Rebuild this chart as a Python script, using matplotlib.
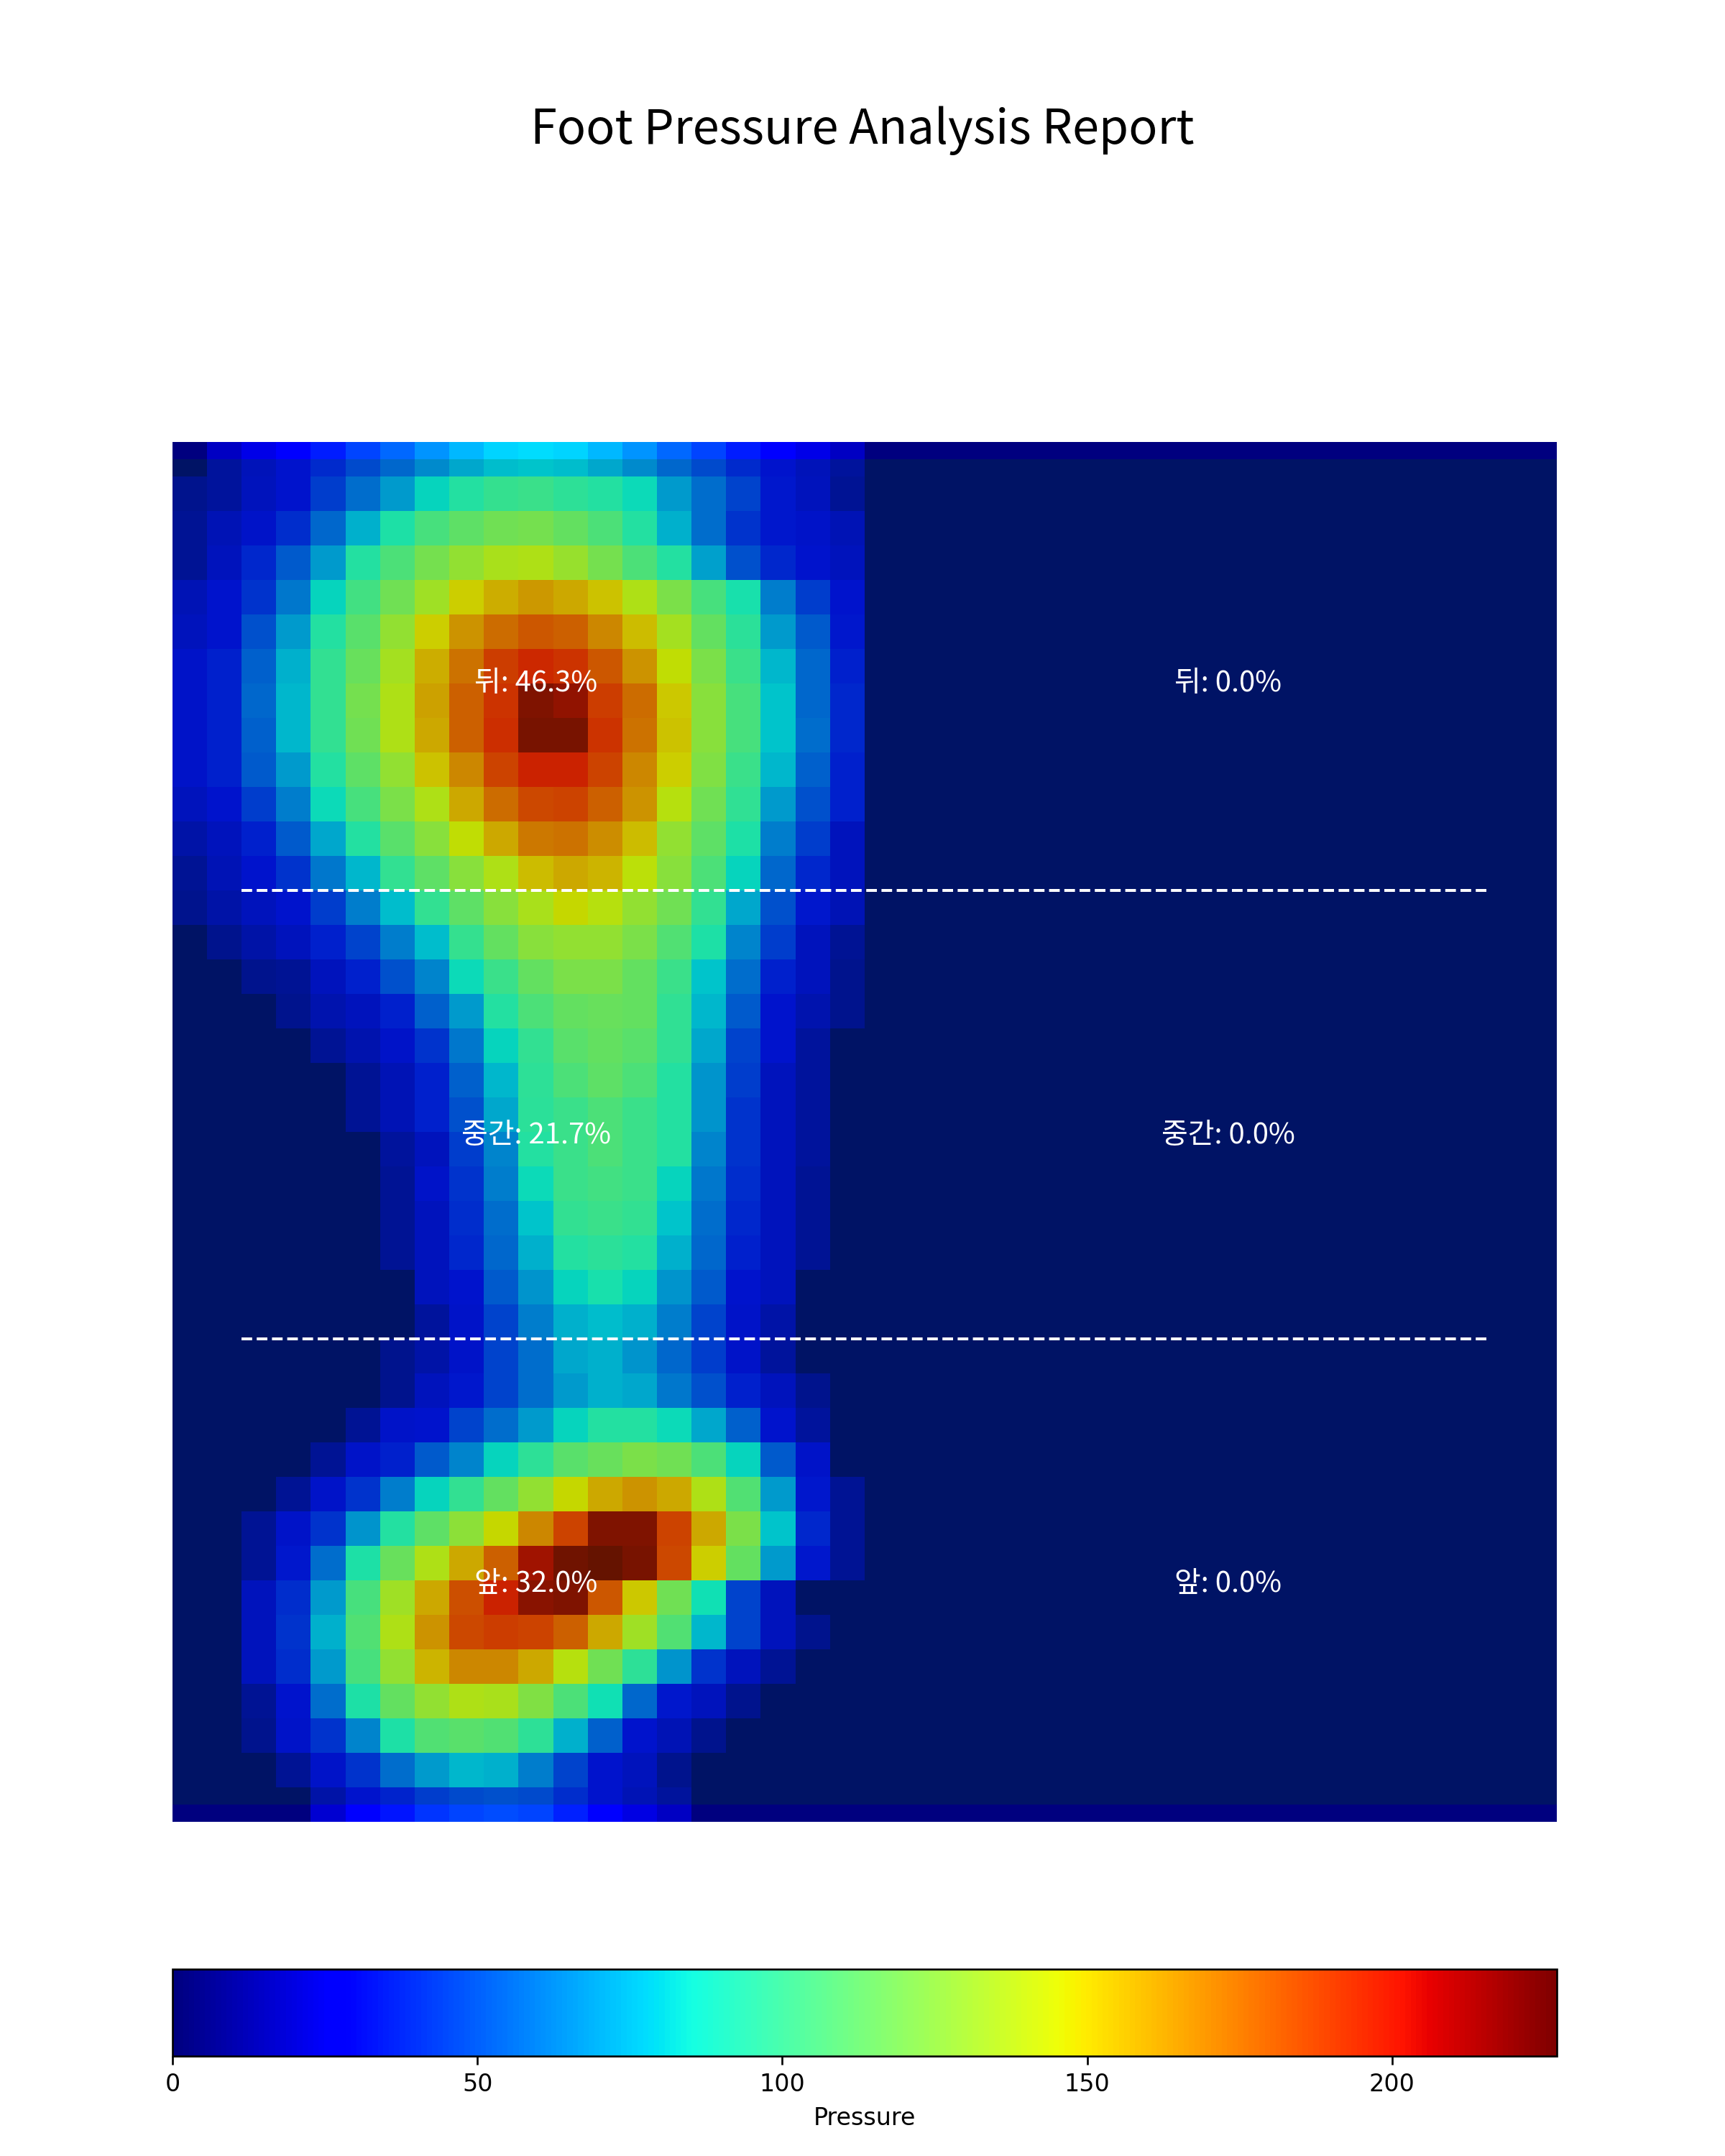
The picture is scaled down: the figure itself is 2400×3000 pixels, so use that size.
import matplotlib.pyplot as plt
import numpy as np
from matplotlib.patches import Rectangle

# pressure grid, left half of the sensor (20 columns); right half reads 0
left_rows = [
    [0, 14, 21, 27, 35, 44, 52, 62, 70, 76, 78, 76, 70, 62, 52, 44, 35, 27, 21, 14],
    [10, 14, 22, 28, 40, 54, 66, 82, 92, 98, 100, 95, 92, 84, 66, 54, 42, 30, 22, 12],
    [12, 20, 24, 36, 52, 72, 90, 104, 112, 118, 120, 114, 106, 92, 72, 54, 38, 30, 24, 20],
    [12, 22, 34, 48, 66, 92, 106, 120, 130, 138, 140, 132, 120, 106, 92, 68, 46, 34, 28, 22],
    [20, 26, 38, 56, 82, 102, 118, 134, 150, 160, 166, 162, 154, 140, 122, 104, 88, 58, 40, 28],
    [22, 28, 46, 66, 92, 110, 130, 150, 168, 180, 186, 183, 172, 156, 136, 114, 94, 66, 48, 30],
    [24, 32, 50, 72, 97, 116, 136, 160, 178, 194, 200, 196, 186, 168, 146, 122, 100, 74, 52, 32],
    [24, 32, 52, 74, 97, 120, 140, 164, 183, 196, 220, 216, 194, 180, 152, 126, 104, 78, 52, 34],
    [24, 32, 50, 74, 97, 118, 140, 162, 183, 198, 222, 222, 196, 178, 154, 126, 104, 78, 54, 34],
    [24, 32, 48, 66, 92, 112, 130, 154, 172, 192, 202, 202, 192, 172, 150, 124, 100, 74, 50, 32],
    [22, 28, 40, 58, 84, 104, 122, 140, 162, 180, 190, 192, 183, 168, 142, 118, 96, 66, 46, 32],
    [16, 22, 32, 48, 70, 92, 110, 126, 146, 162, 176, 178, 170, 156, 130, 112, 90, 58, 40, 22],
    [12, 20, 26, 38, 56, 74, 97, 112, 126, 140, 156, 162, 158, 144, 126, 106, 82, 52, 34, 22],
    [10, 16, 22, 28, 40, 58, 76, 97, 112, 126, 138, 148, 142, 130, 118, 97, 70, 46, 30, 20],
    [0, 10, 16, 22, 32, 42, 58, 76, 98, 114, 126, 130, 130, 122, 108, 90, 60, 40, 22, 12],
    [0, 0, 10, 12, 22, 32, 46, 60, 84, 100, 114, 122, 122, 114, 100, 78, 54, 32, 22, 10],
    [0, 0, 0, 10, 18, 22, 32, 50, 66, 92, 106, 114, 116, 114, 96, 74, 48, 28, 18, 10],
    [0, 0, 0, 0, 12, 18, 24, 38, 56, 82, 97, 110, 114, 110, 96, 70, 42, 28, 14, 0],
    [0, 0, 0, 0, 0, 12, 20, 32, 50, 74, 95, 106, 112, 106, 92, 64, 40, 22, 14, 0],
    [0, 0, 0, 0, 0, 12, 20, 32, 46, 70, 94, 100, 106, 100, 92, 64, 38, 22, 14, 0],
    [0, 0, 0, 0, 0, 0, 14, 22, 40, 60, 92, 100, 106, 100, 92, 60, 38, 22, 14, 0],
    [0, 0, 0, 0, 0, 0, 12, 24, 38, 58, 84, 100, 102, 100, 82, 56, 36, 22, 12, 0],
    [0, 0, 0, 0, 0, 0, 12, 22, 36, 54, 78, 97, 100, 97, 78, 54, 34, 22, 12, 0],
    [0, 0, 0, 0, 0, 0, 12, 22, 34, 52, 72, 92, 94, 92, 72, 52, 32, 22, 12, 0],
    [0, 0, 0, 0, 0, 0, 0, 22, 28, 48, 64, 82, 88, 82, 64, 48, 28, 22, 0, 0],
    [0, 0, 0, 0, 0, 0, 0, 14, 24, 42, 58, 72, 76, 72, 58, 42, 24, 16, 0, 0],
    [0, 0, 0, 0, 0, 0, 10, 16, 24, 42, 54, 70, 72, 64, 52, 40, 24, 14, 0, 0],
    [0, 0, 0, 0, 0, 0, 10, 22, 30, 42, 54, 66, 72, 70, 56, 46, 32, 22, 10, 0],
    [0, 0, 0, 0, 0, 12, 24, 26, 42, 54, 66, 82, 92, 92, 84, 70, 50, 26, 14, 0],
    [0, 0, 0, 0, 12, 24, 32, 48, 60, 82, 95, 110, 116, 122, 118, 106, 82, 48, 24, 0],
    [0, 0, 0, 12, 24, 38, 58, 82, 97, 114, 130, 148, 162, 168, 162, 140, 108, 66, 30, 12],
    [0, 0, 12, 24, 38, 64, 92, 112, 128, 148, 172, 192, 220, 220, 192, 162, 122, 78, 34, 12],
    [0, 0, 12, 30, 54, 90, 116, 140, 162, 183, 212, 224, 227, 222, 190, 150, 114, 66, 30, 12],
    [0, 0, 22, 36, 66, 104, 134, 162, 188, 202, 218, 220, 186, 152, 118, 86, 42, 22, 0, 0],
    [0, 0, 22, 38, 72, 108, 140, 168, 190, 194, 192, 183, 162, 134, 108, 74, 42, 22, 10, 0],
    [0, 0, 22, 36, 66, 104, 130, 158, 172, 172, 162, 142, 118, 95, 64, 38, 22, 12, 0, 0],
    [0, 0, 12, 28, 54, 90, 114, 130, 140, 138, 124, 106, 86, 52, 30, 22, 10, 0, 0, 0],
    [0, 0, 10, 24, 38, 60, 90, 108, 110, 108, 95, 72, 50, 28, 20, 10, 0, 0, 0, 0],
    [0, 0, 0, 12, 24, 38, 54, 66, 74, 72, 58, 42, 28, 22, 10, 0, 0, 0, 0, 0],
    [0, 0, 0, 0, 16, 27, 33, 40, 44, 46, 44, 36, 27, 20, 14, 0, 0, 0, 0, 0],
]
n_right = 20

zone_names = ["뒤", "중간", "앞"]
left_pct = [46.3, 21.7, 32.0]
right_pct = [0.0, 0.0, 0.0]
zone_bounds = [12.5, 25.5]
label_y = [6.5, 19.6, 32.6]

grid = np.array([r + [0] * n_right for r in left_rows], dtype=float)

fig = plt.figure(figsize=(10, 12.5), dpi=240)
ax = fig.add_axes([0.1, 0.155, 0.8025, 0.64])
im = ax.imshow(grid, cmap="jet", aspect="auto", interpolation="nearest")
# dark tint over the sensor area
ax.add_patch(Rectangle((-0.5, 0), 40, 39, facecolor="darkgreen", alpha=0.2, edgecolor="none"))
for yb in zone_bounds:
    ax.axhline(yb, xmin=0.05, xmax=0.95, color="white", linestyle="--", linewidth=1.2)
for name, lp, rp, yy in zip(zone_names, left_pct, right_pct, label_y):
    ax.text(10, yy, f"{name}: {lp:.1f}%", color="white", ha="center", va="center",
            fontsize=12, family=["Noto Sans CJK KR", "DejaVu Sans"])
    ax.text(30, yy, f"{name}: {rp:.1f}%", color="white", ha="center", va="center",
            fontsize=12, family=["Noto Sans CJK KR", "DejaVu Sans"])
ax.set_xlim(-0.5, 39.5)
ax.set_ylim(39.5, -0.5)
ax.axis("off")

cax = fig.add_axes([0.1, 0.0463, 0.8025, 0.0403])
cb = fig.colorbar(im, cax=cax, orientation="horizontal")
cb.set_ticks([0, 50, 100, 150, 200])
cb.ax.tick_params(labelsize=10)
cb.set_label("Pressure", fontsize=10)

fig.suptitle("Foot Pressure Analysis Report", y=0.951, fontsize=20,
             family=["Noto Sans CJK KR", "DejaVu Sans"])
fig.savefig("out.png")
